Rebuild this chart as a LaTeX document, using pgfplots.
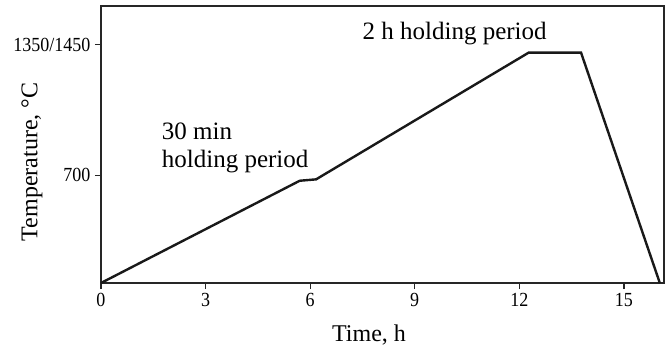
\documentclass[border=0pt]{standalone}
\usepackage{fontspec}
\setmainfont{Liberation Serif}
\newfontfamily\tickfont[FakeStretch=0.9]{Liberation Serif}
\usepackage{pgfplots}
\pgfplotsset{compat=1.18}
\begin{document}
\begin{tikzpicture}
\begin{axis}[
  scale only axis,
  width=563pt, height=277pt,
  xmin=0, xmax=16.15,
  ymin=163, ymax=1542,
  xtick={0,3,6,9,12,15},
  ytick={700,1350},
  yticklabels={700,1350/1450},
  xtick pos=bottom, ytick pos=left,
  tick align=outside,
  major tick length=6pt,
  axis line style={line width=1.2pt, black!85},
  tick style={line width=1.2pt, black!85},
  /pgf/number format/assume math mode=true,
  tick label style={font=\tickfont\fontsize{20}{22}\selectfont},
  xticklabel style={yshift=-1pt},
  yticklabel style={xshift=-1pt},
  xlabel={Time, h},
  ylabel={Temperature, °C},
  label style={font=\fontsize{24}{28}\selectfont},
  xlabel style={at={(axis description cs:0.476,0)}, anchor=center, yshift=-52pt},
  ylabel style={at={(axis description cs:-0.1226,0.437)}, anchor=center},
  clip=false,
]
\addplot[line width=2.4pt, black!90] coordinates {
  (0,163) (5.70,672) (6.17,679) (12.27,1310) (13.77,1310) (16.03,163)
};
\node[anchor=base west, inner sep=0, font=\fontsize{25}{28}\selectfont] at (axis cs:1.74,877) {30 min};
\node[anchor=base west, inner sep=0, font=\fontsize{25}{28}\selectfont] at (axis cs:1.74,740) {holding period};
\node[anchor=base west, inner sep=0, font=\fontsize{25}{28}\selectfont] at (axis cs:7.5,1375) {2 h holding period};
\end{axis}
\path[use as bounding box] (current axis.south west) ++(-101pt,-67pt) rectangle ++(669pt,350pt);
\end{tikzpicture}
\end{document}
